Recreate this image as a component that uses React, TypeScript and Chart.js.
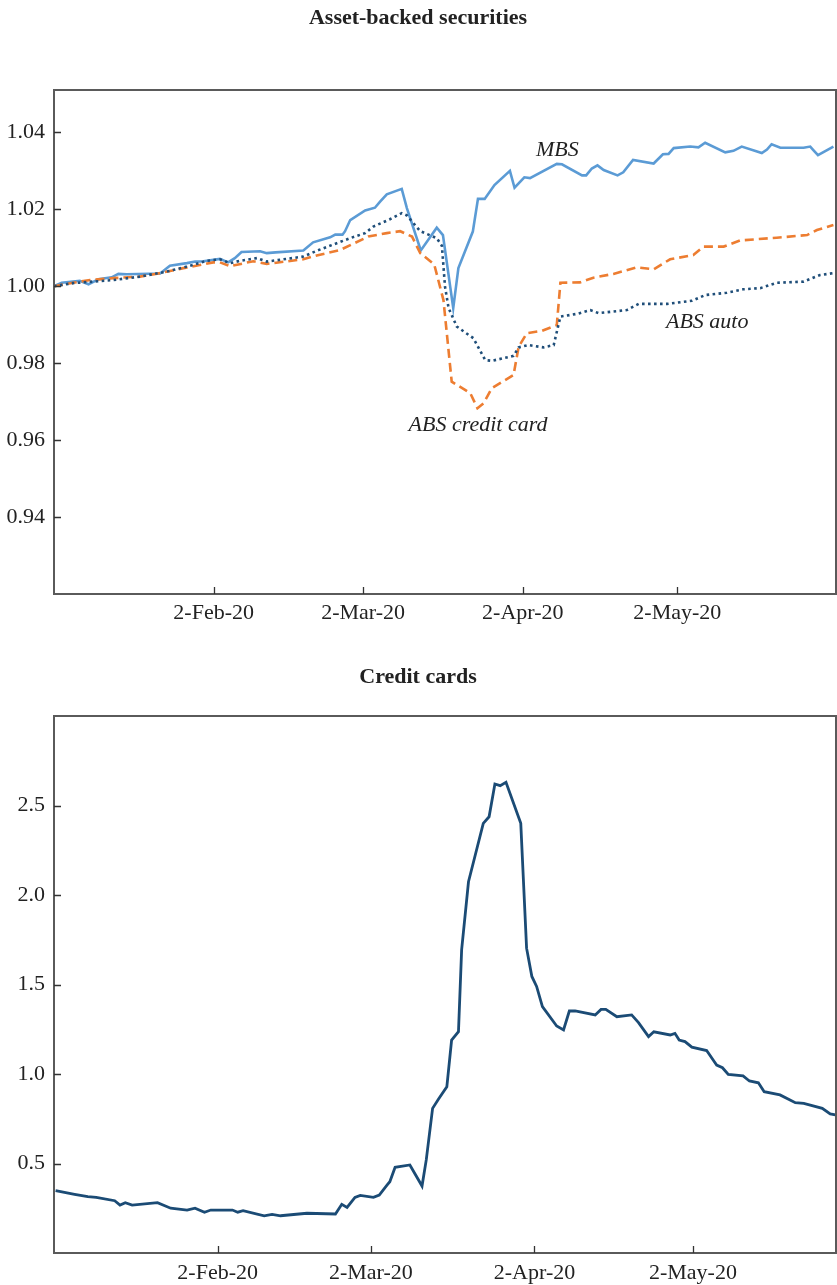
import React, { useEffect, useRef } from 'react';
import { Chart, registerables } from 'chart.js';

Chart.register(...registerables);

// x values are days counted from 1-Jan-2020 (2-Jan-20 = 1)
const X_TICK_DAYS = [32, 61, 92, 122];
const X_TICK_LABELS = ['2-Feb-20', '2-Mar-20', '2-Apr-20', '2-May-20'];

const ABS_Y_TICKS = [0.94, 0.96, 0.98, 1.0, 1.02, 1.04];
const CARD_Y_TICKS = [0.5, 1.0, 1.5, 2.0, 2.5];

const MBS_DAYS = [1, 2.5, 6, 7.7, 9.6, 12.2, 13.5, 15.1, 21.6, 23.5, 26.8, 28.4, 30, 33.2, 34.8, 36.1, 37.4, 41, 42.3, 44, 49.4, 51.3, 54.6, 55.6, 57, 57.5, 58.5, 61.4, 63.3, 64.3, 65.6, 68.5, 69.5, 72.2, 75.3, 76.5, 78.5, 79.5, 82.3, 83.3, 84.6, 86.5, 89.5, 90.4, 92.3, 93.4, 98.6, 99.6, 103.5, 104.3, 105.4, 106.5, 107.7, 110.4, 111.5, 113.4, 117.4, 119.2, 120.3, 121.3, 124.5, 126.1, 127.4, 131.3, 132.9, 134.5, 138.4, 139.4, 140.3, 142, 146.5, 147.8, 148.4, 149.3, 152.3];
const MBS_VALUES = [1.0, 1.0009, 1.0014, 1.0005, 1.0018, 1.0023, 1.0032, 1.0031, 1.0033, 1.0053, 1.006, 1.0064, 1.0065, 1.0071, 1.0062, 1.0073, 1.0089, 1.0091, 1.0086, 1.0088, 1.0093, 1.0114, 1.0127, 1.0134, 1.0134, 1.0143, 1.0172, 1.0197, 1.0204, 1.022, 1.0239, 1.0253, 1.0203, 1.0093, 1.0152, 1.0133, 0.9943, 1.0047, 1.0142, 1.0227, 1.0227, 1.0263, 1.03, 1.0256, 1.0283, 1.0281, 1.0318, 1.0317, 1.0288, 1.0288, 1.0306, 1.0314, 1.0302, 1.0288, 1.0296, 1.0328, 1.0319, 1.0343, 1.0344, 1.0359, 1.0363, 1.0361, 1.0373, 1.0348, 1.0352, 1.0363, 1.0346, 1.0355, 1.0369, 1.036, 1.036, 1.0363, 1.0354, 1.0341, 1.0363];

const ABS_CC_DAYS = [1, 4.7, 8, 12.5, 17.7, 21.6, 26.1, 29.3, 31.9, 33.2, 35.2, 39.7, 42.3, 49.4, 52, 56.5, 62, 65.6, 68.2, 70.5, 72.1, 74.8, 76.6, 78.2, 81.8, 83.2, 84.4, 86, 90.2, 91.2, 92.8, 95.7, 98.6, 99.3, 103.1, 105.7, 109.6, 114.1, 117.4, 120.6, 125.1, 127.1, 131, 134.2, 141.3, 147.2, 149.1, 152.3];
const ABS_CC_VALUES = [1.0, 1.0009, 1.0016, 1.0021, 1.0025, 1.0034, 1.0047, 1.0055, 1.0062, 1.0062, 1.0052, 1.0065, 1.0058, 1.007, 1.008, 1.0094, 1.0129, 1.0138, 1.0143, 1.0129, 1.0086, 1.0057, 0.9964, 0.9752, 0.9722, 0.9683, 0.9696, 0.9735, 0.9769, 0.9843, 0.9878, 0.9884, 0.9899, 1.0009, 1.001, 1.0022, 1.0032, 1.0049, 1.0044, 1.007, 1.0081, 1.0103, 1.0103, 1.0119, 1.0126, 1.0133, 1.0146, 1.0159];

const ABS_AUTO_DAYS = [1, 4.7, 8.6, 12.5, 17.7, 22.9, 26.8, 30.7, 33.2, 35.2, 37.1, 40.4, 42.3, 49.4, 52, 58.5, 61.4, 63, 66.2, 68.5, 69.5, 72.1, 75.3, 76.3, 76.9, 77.6, 79.2, 82.4, 84.7, 86, 90.2, 91.2, 93.1, 96, 98, 99.3, 102.5, 105.1, 106.7, 112.2, 114.5, 120, 124.8, 127.4, 131.6, 134.8, 138.1, 141.3, 146.5, 149.7, 152.3];
const ABS_AUTO_VALUES = [1.0, 1.0008, 1.0012, 1.0016, 1.0025, 1.0038, 1.0051, 1.0066, 1.007, 1.006, 1.0066, 1.0073, 1.0064, 1.0077, 1.0092, 1.0125, 1.0138, 1.0155, 1.0174, 1.019, 1.0184, 1.0143, 1.0125, 1.0105, 0.9999, 0.9943, 0.9895, 0.9865, 0.9808, 0.9806, 0.9819, 0.9841, 0.9847, 0.9841, 0.9847, 0.9921, 0.9928, 0.9938, 0.993, 0.9938, 0.9954, 0.9954, 0.9962, 0.9977, 0.9983, 0.9992, 0.9995, 1.0009, 1.0012, 1.0029, 1.0034];

const CARD_DAYS = [1.3, 4.9, 7.4, 9, 12.5, 13.5, 14.5, 15.8, 20.6, 23.1, 26.2, 27.7, 29.5, 30.7, 34.8, 35.8, 36.8, 40.8, 42.3, 43.9, 48.9, 54.3, 55.5, 56.5, 58, 59, 61.5, 62.6, 64.1, 64.6, 65.6, 68.4, 70.7, 71.5, 72.7, 73.8, 75.4, 76.3, 77.6, 78.2, 79.5, 82.3, 83.4, 84.5, 85.5, 86.6, 89.4, 90.5, 91.5, 92.4, 93.5, 96.2, 97.5, 98.6, 99.7, 103.5, 104.6, 105.5, 107.6, 110.4, 111.7, 113.6, 114.6, 117.7, 118.6, 119.4, 120.5, 121.8, 124.6, 125.9, 126.5, 127.6, 128.7, 131.5, 132.7, 134.4, 135.5, 138.5, 141.4, 143, 146.5, 148, 149];
const CARD_VALUES = [0.348, 0.328, 0.315, 0.311, 0.292, 0.268, 0.281, 0.268, 0.281, 0.25, 0.24, 0.25, 0.227, 0.24, 0.24, 0.228, 0.236, 0.208, 0.216, 0.208, 0.222, 0.218, 0.272, 0.255, 0.311, 0.322, 0.311, 0.324, 0.38, 0.398, 0.479, 0.492, 0.374, 0.52, 0.808, 0.859, 0.929, 1.19, 1.236, 1.693, 2.074, 2.4, 2.437, 2.62, 2.611, 2.63, 2.4, 1.703, 1.545, 1.489, 1.377, 1.268, 1.246, 1.352, 1.352, 1.33, 1.361, 1.361, 1.32, 1.33, 1.287, 1.209, 1.236, 1.218, 1.227, 1.19, 1.181, 1.15, 1.131, 1.075, 1.05, 1.035, 0.998, 0.989, 0.961, 0.951, 0.901, 0.883, 0.84, 0.836, 0.808, 0.777, 0.771];

const ABS_LABEL_TEXTS = ['MBS', 'ABS auto', 'ABS credit card'];
const ABS_LABEL_DAYS = [98.7, 127.8, 83.3];
const ABS_LABEL_VALUES = [1.0354, 0.9907, 0.9639];

const FONT = '"Liberation Serif", "Times New Roman", Times, serif';

const pts = (xs: number[], ys: number[]) => xs.map((x, i) => ({ x, y: ys[i] }));

const framePlugin = {
  id: 'frame',
  afterDraw(chart: any, _args: any, opts: any) {
    const { ctx, chartArea: a, scales } = chart;
    ctx.save();
    ctx.strokeStyle = '#5a5a5a';
    ctx.lineWidth = 2;
    ctx.strokeRect(a.left, a.top, a.right - a.left, a.bottom - a.top);
    ctx.strokeStyle = '#333';
    ctx.lineWidth = 1.3;
    ctx.beginPath();
    scales.y.ticks.forEach((t: any) => {
      const y = Math.round(scales.y.getPixelForValue(t.value)) + 0.5;
      ctx.moveTo(a.left, y);
      ctx.lineTo(a.left + 7, y);
    });
    scales.x.ticks.forEach((t: any) => {
      const x = Math.round(scales.x.getPixelForValue(t.value)) + 0.5;
      ctx.moveTo(x, a.bottom);
      ctx.lineTo(x, a.bottom - 7);
    });
    ctx.stroke();
    const lbl = opts && opts.labels;
    if (lbl) {
      ctx.font = 'italic 22px ' + FONT;
      ctx.fillStyle = '#222';
      ctx.textAlign = 'center';
      ctx.textBaseline = 'middle';
      lbl.texts.forEach((t: string, i: number) => {
        ctx.fillText(t, scales.x.getPixelForValue(lbl.xs[i]), scales.y.getPixelForValue(lbl.ys[i]));
      });
    }
    ctx.restore();
  },
};

function makeConfig(p: {
  datasets: any[];
  xMax: number;
  yMin: number;
  yMax: number;
  yTicks: number[];
  yDigits: number;
  title: string;
  titleTop: number;
  titleBottom: number;
  xHeight: number;
  xPad: number;
  labels?: any;
}): any {
  return {
    type: 'line',
    data: { datasets: p.datasets },
    plugins: [framePlugin],
    options: {
      animation: false,
      responsive: false,
      devicePixelRatio: 1,
      layout: { padding: { left: 0, right: 1, top: 0, bottom: 0 } },
      elements: { point: { radius: 0 }, line: { tension: 0 } },
      plugins: {
        legend: { display: false },
        tooltip: { enabled: false },
        title: {
          display: true,
          text: p.title,
          color: '#222',
          font: { family: FONT, size: 22, weight: 'bold', lineHeight: 1.2 },
          padding: { top: p.titleTop, bottom: p.titleBottom },
        },
        frame: { labels: p.labels },
      },
      scales: {
        x: {
          type: 'linear',
          min: 1,
          max: p.xMax,
          afterBuildTicks: (s: any) => {
            s.ticks = X_TICK_DAYS.map((v) => ({ value: v }));
          },
          afterFit: (s: any) => {
            s.height = p.xHeight;
          },
          grid: { display: false, drawTicks: false },
          border: { display: false },
          ticks: {
            autoSkip: false,
            maxRotation: 0,
            padding: p.xPad,
            color: '#222',
            font: { family: FONT, size: 22 },
            callback: (_v: any, i: number) => X_TICK_LABELS[i],
          },
        },
        y: {
          type: 'linear',
          min: p.yMin,
          max: p.yMax,
          afterBuildTicks: (s: any) => {
            s.ticks = p.yTicks.map((v) => ({ value: v }));
          },
          afterFit: (s: any) => {
            s.width = 54;
          },
          grid: { display: false, drawTicks: false },
          border: { display: false },
          ticks: {
            padding: 9,
            color: '#222',
            font: { family: FONT, size: 22 },
            callback: (v: any) => Number(v).toFixed(p.yDigits),
          },
        },
      },
    },
  };
}

function ChartCanvas({ config, width, height, top }: { config: () => any; width: number; height: number; top: number }) {
  const ref = useRef<HTMLCanvasElement | null>(null);
  useEffect(() => {
    if (!ref.current) return;
    const chart = new Chart(ref.current, config());
    return () => chart.destroy();
  }, []);
  return (
    <canvas
      ref={ref}
      width={width}
      height={height}
      style={{ position: 'absolute', left: 0, top, width, height, display: 'block' }}
    />
  );
}

const absConfig = () =>
  makeConfig({
    datasets: [
      {
        label: 'ABS auto',
        data: pts(ABS_AUTO_DAYS, ABS_AUTO_VALUES),
        borderColor: '#1F4E79',
        borderWidth: 2.6,
        borderDash: [2.6, 3.4],
        borderCapStyle: 'butt',
      },
      {
        label: 'ABS credit card',
        data: pts(ABS_CC_DAYS, ABS_CC_VALUES),
        borderColor: '#ED7D31',
        borderWidth: 2.6,
        borderDash: [9, 5],
      },
      {
        label: 'MBS',
        data: pts(MBS_DAYS, MBS_VALUES),
        borderColor: '#5B9BD5',
        borderWidth: 2.6,
      },
    ],
    xMax: 152.8,
    yMin: 0.92,
    yMax: 1.051,
    yTicks: ABS_Y_TICKS,
    yDigits: 2,
    title: 'Asset-backed securities',
    titleTop: 5,
    titleBottom: 58.6,
    xHeight: 51,
    xPad: 6,
    labels: { texts: ABS_LABEL_TEXTS, xs: ABS_LABEL_DAYS, ys: ABS_LABEL_VALUES },
  });

const cardConfig = () =>
  makeConfig({
    datasets: [
      {
        label: 'Credit cards',
        data: pts(CARD_DAYS, CARD_VALUES),
        borderColor: '#1B4B75',
        borderWidth: 2.8,
      },
    ],
    xMax: 149.1,
    yMin: 0,
    yMax: 3,
    yTicks: CARD_Y_TICKS,
    yDigits: 1,
    title: 'Credit cards',
    titleTop: 19,
    titleBottom: 25.6,
    xHeight: 32,
    xPad: 7,
  });

export default function App() {
  return (
    <div style={{ position: 'absolute', left: 0, top: 0, width: 837, height: 1285, background: '#fff' }}>
      <ChartCanvas config={absConfig} width={837} height={645} top={0} />
      <ChartCanvas config={cardConfig} width={837} height={640} top={645} />
    </div>
  );
}
